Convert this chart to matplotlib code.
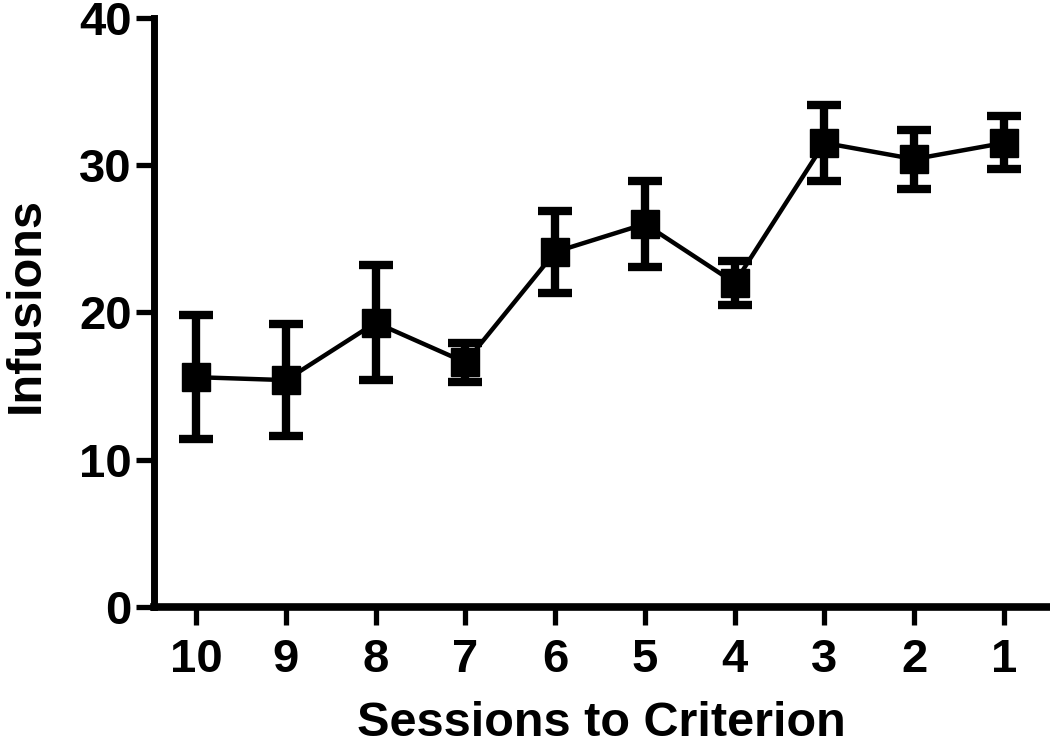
import matplotlib
matplotlib.use("Agg")
import matplotlib.pyplot as plt

sessions = ["10", "9", "8", "7", "6", "5", "4", "3", "2", "1"]
infusions = [15.6, 15.4, 19.3, 16.6, 24.1, 26.0, 22.0, 31.5, 30.4, 31.5]
sem = [4.2, 3.8, 3.9, 1.3, 2.8, 2.9, 1.5, 2.6, 2.0, 1.8]

plt.rcParams['font.family'] = ['Liberation Sans', 'DejaVu Sans']
plt.rcParams['font.weight'] = 'bold'

fig = plt.figure(figsize=(10.5, 7.46), dpi=100)
ax = fig.add_axes([0.1467, 0.1863, 0.853, 0.79])

x = list(range(len(sessions)))
ax.errorbar(x, infusions, yerr=sem, color='black', lw=3.2, elinewidth=6,
            capsize=12, capthick=6, marker='s', markersize=19.5, mfc='black', mec='black')

ax.set_xlim(-0.47, 9.51)
ax.set_ylim(0, 40)
ax.set_yticks([0, 10, 20, 30, 40])
ax.set_xticks(x)
ax.set_xticklabels(sessions)
for s in ['top', 'right']:
    ax.spines[s].set_visible(False)
ax.spines['left'].set_linewidth(5)
ax.spines['bottom'].set_linewidth(5.5)
ax.spines['left'].set_bounds(0, 40)
ax.tick_params(axis='both', width=3.8, length=13, labelsize=34)
ax.tick_params(axis='x', pad=9)
ax.tick_params(axis='y', pad=3)
for lab in ax.get_xticklabels() + ax.get_yticklabels():
    lab.set_fontweight('bold')
ax.set_xlabel("Sessions to Criterion", fontsize=35, fontweight='bold', labelpad=14)
ax.set_ylabel("Infusions", fontsize=35, fontweight='bold')
ax.yaxis.set_label_coords(-0.118, 0.513)

fig.savefig("out.png", dpi=100)
